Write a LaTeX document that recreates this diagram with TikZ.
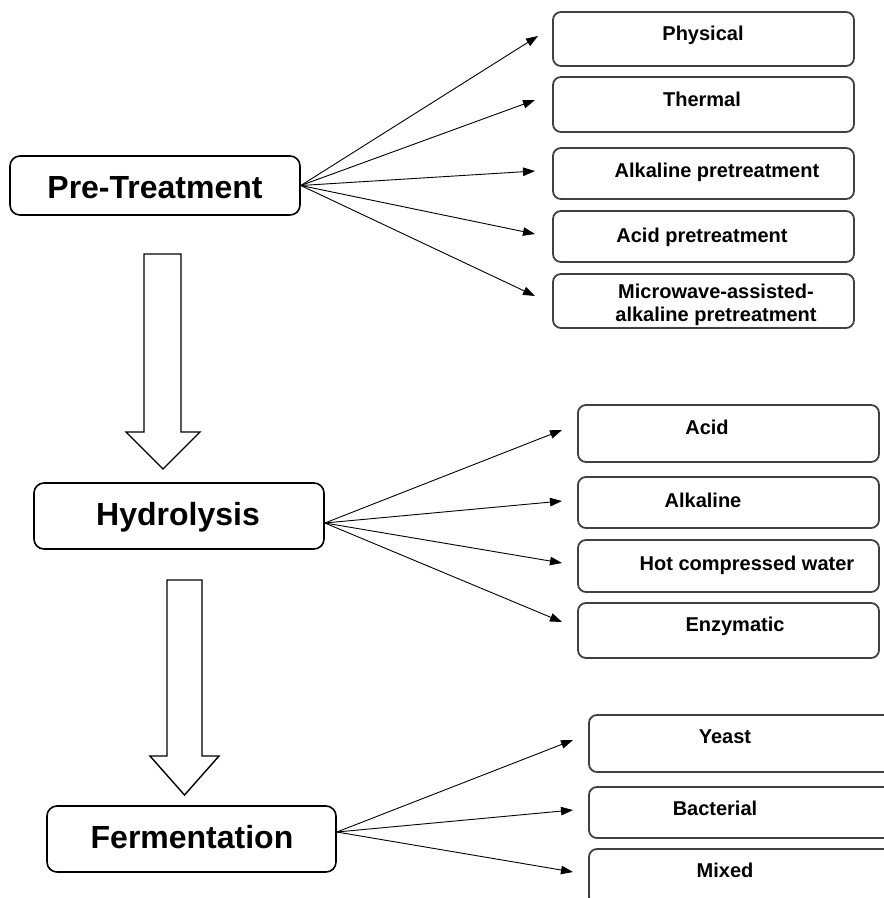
\documentclass[tikz,border=0pt]{standalone}
\usepackage{fontspec}
\setmainfont{Liberation Sans}
\usetikzlibrary{arrows.meta,calc}
\begin{document}
\begin{tikzpicture}[x=1pt,y=-1pt,
  mainbox/.style={draw=black, line width=1.6pt, rounded corners=10pt, fill=white, inner sep=0pt},
  subbox/.style={draw=black!75, line width=1.8pt, rounded corners=8pt, fill=white, inner sep=0pt},
  maintxt/.style={font=\bfseries\fontsize{32}{38}\selectfont, anchor=base, inner sep=0pt},
  subtxt/.style={font=\bfseries\fontsize{20}{23}\selectfont, anchor=base, inner sep=0pt},
  link/.style={line width=0.9pt, -{Triangle[length=12pt,width=8.5pt]}},
  blockarrow/.style={draw=black, line width=1.4pt, fill=white, line join=miter}
]
\useasboundingbox (0,0) rectangle (884,898);
\clip (0,0) rectangle (884,898);

% ---- main stages ----
\node[mainbox, minimum width=290pt, minimum height=59pt] (pre) at (155,185.5) {};
\node[maintxt] (preT) at (155,198) {Pre-Treatment};

\node[mainbox, minimum width=290pt, minimum height=66pt] (hyd) at (179,516) {};
\node[maintxt] (hydT) at (178,525) {Hydrolysis};

\node[mainbox, minimum width=289pt, minimum height=66pt] (fer) at (191.5,839) {};
\node[maintxt] (ferT) at (192,848) {Fermentation};

% ---- block arrows between stages ----
\draw[blockarrow] (144,254) -- (181,254) -- (181,432) -- (200,432) -- (163,469)
  -- (126,432) -- (144,432) -- cycle;
\draw[blockarrow] (167,580) -- (202,580) -- (202,756) -- (219,756) -- (184.5,795)
  -- (150,756) -- (167,756) -- cycle;

% ---- pre-treatment options ----
\node[subbox, minimum width=301pt, minimum height=54pt] (phys) at (703.5,39) {};
\node[subtxt] (physT) at (703,40) {Physical};
\node[subbox, minimum width=301pt, minimum height=55pt] (therm) at (703.5,104.5) {};
\node[subtxt] (thermT) at (702,106) {Thermal};
\node[subbox, minimum width=301pt, minimum height=51pt] (alk) at (703.5,173.5) {};
\node[subtxt] (alkT) at (717,177) {Alkaline pretreatment};
\node[subbox, minimum width=301pt, minimum height=51pt] (acid) at (703.5,236.5) {};
\node[subtxt] (acidT) at (702,242) {Acid pretreatment};
\node[subbox, minimum width=301pt, minimum height=54pt] (micro) at (703.5,301) {};
\node[subtxt] (microT1) at (716,298) {Microwave-assisted-};
\node[subtxt] (microT2) at (716,321) {alkaline pretreatment};

% ---- hydrolysis options ----
\node[subbox, minimum width=301pt, minimum height=57pt] (hacid) at (728.5,433.5) {};
\node[subtxt] (hacidT) at (707,434) {Acid};
\node[subbox, minimum width=301pt, minimum height=51pt] (halk) at (728.5,502.5) {};
\node[subtxt] (halkT) at (703,507) {Alkaline};
\node[subbox, minimum width=301pt, minimum height=52pt] (hot) at (728.5,566) {};
\node[subtxt] (hotT) at (747,570) {Hot compressed water};
\node[subbox, minimum width=301pt, minimum height=55pt] (enz) at (728.5,630.5) {};
\node[subtxt] (enzT) at (735,631) {Enzymatic};

% ---- fermentation options ----
\node[subbox, minimum width=330pt, minimum height=57pt] (yeast) at (754,743.5) {};
\node[subtxt] (yeastT) at (725,743) {Yeast};
\node[subbox, minimum width=330pt, minimum height=51pt] (bact) at (754,812.5) {};
\node[subtxt] (bactT) at (715,815) {Bacterial};
\node[subbox, minimum width=330pt, minimum height=56pt] (mixed) at (754,877) {};
\node[subtxt] (mixedT) at (725,877) {Mixed};

% ---- arrow ends ----
\coordinate (tPhys)  at (538,36);
\coordinate (tTherm) at (535,100);
\coordinate (tAlk)   at (535,171);
\coordinate (tAcid)  at (535,234);
\coordinate (tMicro) at (535,296);

\coordinate (hydOut) at ($(hyd.east)+(0,7)$);
\coordinate (tHAcid) at (562,430);
\coordinate (tHAlk)  at (562,501);
\coordinate (tHot)   at (562,563);
\coordinate (tEnz)   at (562,622);

\coordinate (ferOut) at ($(fer.east)+(0,-7)$);
\coordinate (tYeast) at (573,740);
\coordinate (tBact)  at (573,810);
\coordinate (tMixed) at (573,872);

% ---- connectors ----
\foreach \t in {tPhys,tTherm,tAlk,tAcid,tMicro}
  \draw[link] (pre.east) -- (\t);
\foreach \t in {tHAcid,tHAlk,tHot,tEnz}
  \draw[link] (hydOut) -- (\t);
\foreach \t in {tYeast,tBact,tMixed}
  \draw[link] (ferOut) -- (\t);
\end{tikzpicture}
\end{document}
